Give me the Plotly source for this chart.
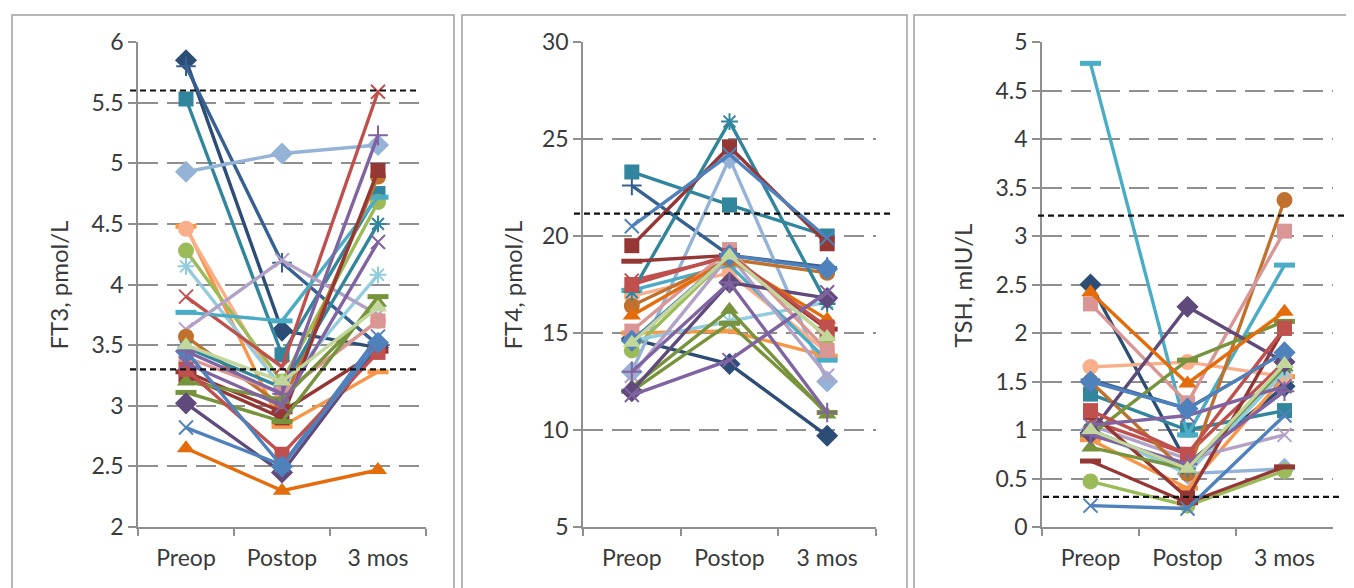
import plotly.graph_objects as go

categories = ["Preop", "Postop", "3 mos"]

# series styles (Excel-like)
series_colors = [
    "#2C4D75", "#376092", "#31859C", "#95B3D7", "#F79646", "#F9B08A",
    "#9BBB59", "#93CDDD", "#C0504D", "#4BACC6", "#B3A2C7", "#C0712E",
    "#31859C", "#D99694", "#953735", "#953735", "#77933C", "#77933C",
    "#604A7B", "#4F81BD", "#E46C0A", "#C0504D", "#8064A2", "#4F81BD",
    "#8064A2", "#C3D69B",
]
series_markers = [
    "diamond", "cross-thin-open", "square", "diamond", "line-ew-open", "circle",
    "circle", "asterisk-open", "x-thin-open", "line-ew-open", "x-thin-open", "circle",
    "asterisk-open", "square", "square", "line-ew-open", "triangle-up", "line-ew-open",
    "diamond", "x-thin-open", "triangle-up", "square", "x-thin-open", "diamond",
    "cross-thin-open", "triangle-up",
]

# FT3, pmol/L  (preop, postop, 3 mos) per series
ft3_preop = [5.85, 5.80, 5.53, 4.93, 4.48, 4.46, 4.28, 4.15, 3.90, 3.77, 3.63, 3.57,
             3.48, 3.40, 3.25, 3.28, 3.20, 3.11, 3.02, 2.82, 2.65, 3.30, 3.35, 3.45,
             3.45, 3.50]
ft3_postop = [3.62, 4.18, 3.42, 5.08, 2.83, 3.10, 3.20, 3.15, 3.32, 3.70, 4.20, 3.00,
              3.15, 3.10, 2.90, 2.95, 3.05, 2.87, 2.45, 2.51, 2.30, 2.60, 3.00, 2.50,
              3.10, 3.20]
ft3_3mos = [3.48, 3.50, 4.75, 5.15, 3.28, 3.70, 4.68, 4.08, 5.59, 4.72, 3.75, 4.89,
            4.50, 3.70, 4.94, 3.45, 3.85, 3.90, 3.50, 3.57, 2.47, 3.44, 4.35, 3.52,
            5.23, 3.81]

# FT4, pmol/L
ft4_preop = [14.7, 22.6, 23.3, 13.0, 15.0, 16.9, 14.1, 14.6, 17.7, 17.2, 12.8, 16.4,
             17.1, 15.1, 19.5, 18.7, 12.2, 12.0, 12.0, 20.5, 15.9, 17.5, 11.8, 14.6,
             13.0, 14.5]
ft4_postop = [13.4, 19.0, 21.6, 24.0, 15.1, 18.1, 19.0, 15.6, 18.9, 18.5, 19.0, 18.8,
              25.9, 19.3, 24.6, 19.0, 16.2, 15.5, 17.6, 24.2, 18.8, 19.0, 13.6, 19.0,
              17.6, 19.0]
ft4_3mos = [9.7, 18.4, 20.0, 12.5, 13.8, 14.0, 14.8, 16.6, 15.2, 13.6, 12.8, 18.1,
            16.5, 14.1, 19.6, 15.2, 10.8, 10.9, 16.8, 19.9, 15.7, 15.3, 17.1, 18.3,
            10.9, 14.8]

# TSH, mIU/L
tsh_preop = [2.50, 1.52, 1.37, 1.00, 0.90, 1.65, 0.47, 1.00, 1.10, 4.78, 1.05, 1.50,
             1.00, 2.30, 1.18, 0.68, 0.82, 0.95, 0.97, 0.22, 2.42, 1.20, 1.05, 1.50,
             0.95, 1.00]
tsh_postop = [0.65, 1.22, 1.00, 0.55, 0.40, 1.70, 0.22, 0.55, 0.75, 0.95, 0.70, 0.55,
              0.60, 1.28, 0.30, 0.25, 0.60, 1.72, 2.27, 0.19, 1.48, 0.75, 1.15, 1.22,
              0.65, 0.60]
tsh_3mos = [1.45, 1.80, 1.20, 0.60, 1.55, 1.55, 0.58, 1.60, 1.70, 2.70, 0.95, 3.37,
            1.65, 3.05, 2.05, 0.62, 1.65, 2.12, 1.70, 1.15, 2.22, 2.05, 1.45, 1.80,
            1.40, 1.68]

# reference limits
ft3_ref = [5.6, 3.3]
ft4_ref = [21.15]
tsh_ref = [3.21, 0.31]

y_titles = ["FT3, pmol/L", "FT4, pmol/L", "TSH, mIU/L"]
y_ranges = [[2, 6], [5, 30], [0, 5]]
y_dticks = [0.5, 5, 0.5]

W, H = 1354, 588
OFF = 8  # page body margin
panels = [
    (ft3_preop, ft3_postop, ft3_3mos),
    (ft4_preop, ft4_postop, ft4_3mos),
    (tsh_preop, tsh_postop, tsh_3mos),
]
refs = [ft3_ref, ft4_ref, tsh_ref]

# layout geometry (screen pixels)
plot_x = [(138, 426), (583, 876), (1042, 1333)]
plot_top, plot_bot = 42, 527
title_x = [58, 512, 962]
ref_x = [[(130, 416), (130, 416)], [(574, 892)], [(1038, 1347), (1043, 1342)]]
borders = [(12, 454), (462, 907), (914, 1380)]

def px(x):
    return (x - OFF) / W

def py(y):
    return 1 - (y - OFF) / H

fig = go.Figure()
GRID = "#8F8F8F"
FONT = "Lato"
TXT = "#3A3A3A"

for p, (pre, post, m3) in enumerate(panels):
    ax = "" if p == 0 else str(p + 1)
    for i in range(len(pre)):
        col = series_colors[i]
        sym = series_markers[i]
        open_sym = sym.endswith("-open")
        size = {"diamond": 17, "square": 15, "circle": 16, "triangle-up": 16,
                "line-ew-open": 15}.get(sym, 14)
        mline = dict(color=col, width=5 if sym == "line-ew-open" else (2 if open_sym else 0))
        fig.add_trace(go.Scatter(
            x=categories, y=[pre[i], post[i], m3[i]],
            mode="lines+markers",
            line=dict(color=col, width=3.4),
            marker=dict(symbol=sym, size=size, color=col, line=mline),
            xaxis="x" + ax, yaxis="y" + ax,
            showlegend=False, hoverinfo="y",
        ))

    x0, x1 = plot_x[p]
    fig.layout["xaxis" + ax] = dict(
        domain=[px(x0), px(x1)], anchor="y" + ax,
        type="category", categoryarray=categories, range=[-0.5, 2.5],
        showline=True, linecolor=GRID, linewidth=1.5,
        ticks="outside", tickson="boundaries", ticklen=7, tickcolor=GRID, tickwidth=1.5,
        ticklabelstandoff=10,
        showgrid=False, zeroline=False, automargin=False,
        tickfont=dict(family=FONT, size=23, color=TXT),
        fixedrange=True,
    )
    fig.layout["yaxis" + ax] = dict(
        domain=[py(plot_bot), py(plot_top)], anchor="x" + ax,
        range=y_ranges[p], dtick=y_dticks[p], tick0=y_ranges[p][0],
        showline=True, linecolor=GRID, linewidth=1.5,
        ticks="outside", ticklen=8, tickcolor=GRID, tickwidth=1.5,
        showgrid=True, gridcolor=GRID, gridwidth=1.5, griddash="20px,9px",
        zeroline=False, automargin=False,
        tickfont=dict(family=FONT, size=23, color=TXT),
        fixedrange=True,
    )
    fig.add_annotation(
        text=y_titles[p], xref="paper", yref="paper",
        x=px(title_x[p]), y=py((plot_top + plot_bot) / 2 + 1),
        textangle=-90, showarrow=False, xanchor="center", yanchor="middle",
        font=dict(family=FONT, size=24, color=TXT),
    )
    for r, val in enumerate(refs[p]):
        rx0, rx1 = ref_x[p][r]
        fig.add_shape(type="line", xref="paper", yref="y" + ax,
                      x0=px(rx0), x1=px(rx1), y0=val, y1=val,
                      line=dict(color="#111111", width=2.2, dash="6px,4px"))
    bx0, bx1 = borders[p]
    fig.add_shape(type="rect", xref="paper", yref="paper",
                  x0=px(bx0), x1=px(bx1), y0=py(H + 20), y1=py(15),
                  line=dict(color="#A0A0A0", width=1.5), fillcolor="rgba(0,0,0,0)",
                  layer="below")

fig.update_layout(
    width=W, height=H,
    margin=dict(l=0, r=0, t=0, b=0, autoexpand=False),
    paper_bgcolor="white", plot_bgcolor="white",
    showlegend=False,
)

fig.write_html("out.html", config={"displayModeBar": False})
